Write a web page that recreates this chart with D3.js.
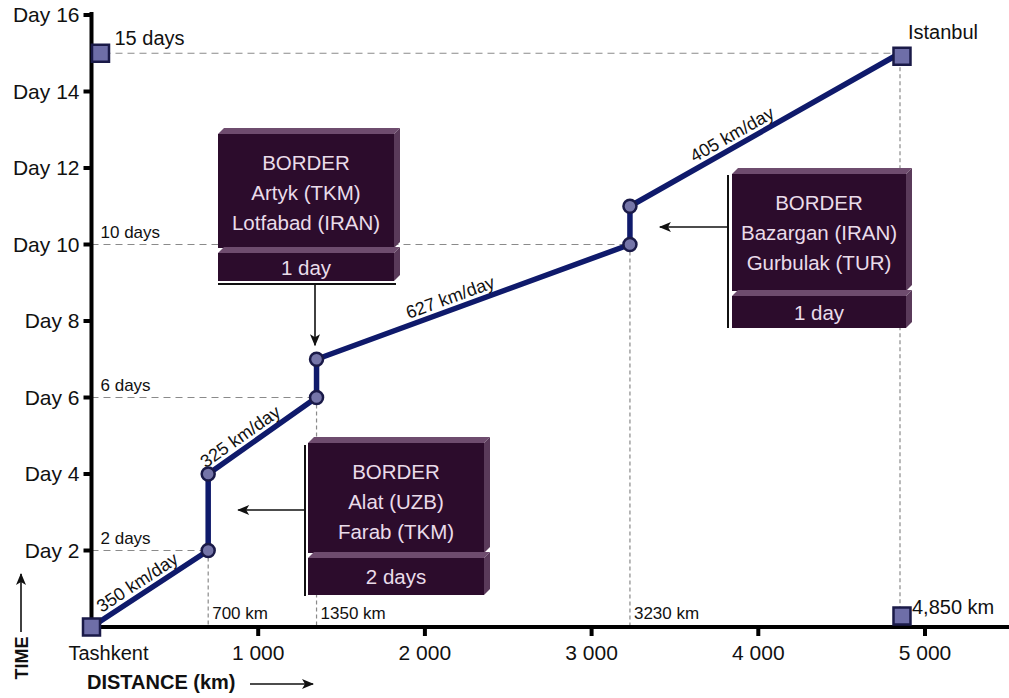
<!DOCTYPE html>
<html><head><meta charset="utf-8">
<script src="https://cdn.jsdelivr.net/npm/d3@7"></script>
<style>
html,body{margin:0;padding:0;background:#fff;}
svg text{font-family:"Liberation Sans",Arial,sans-serif;}
</style></head>
<body>
<svg id="c" width="1009" height="698"></svg>
<script>
// ---- data ----
const routeKm  = [0, 700, 700, 1350, 1350, 3230, 3230, 4850];
const routeDay = [0, 2, 4, 6, 7, 10, 11, 15];
const segPairs = [[0,1],[2,3],[4,5],[6,7]];
const speedLabels = ["350 km/day", "325 km/day", "627 km/day", "405 km/day"];
const milestoneKm  = [700, 1350, 3230, 4850];
const milestoneDay = [2, 6, 10, 15];
const dayLabels = ["2 days", "6 days", "10 days", "15 days"];
const kmLabels  = ["700 km", "1350 km", "3230 km", "4,850 km"];
const yTicks = [2, 4, 6, 8, 10, 12, 14, 16];
const yTickLabels = ["Day 2","Day 4","Day 6","Day 8","Day 10","Day 12","Day 14","Day 16"];
const xTicks = [1000, 2000, 3000, 4000, 5000];
const xTickLabels = ["1 000","2 000","3 000","4 000","5 000"];
const startCity = "Tashkent", endCity = "Istanbul";
const borderTitles = [
  ["BORDER","Artyk (TKM)","Lotfabad (IRAN)"],
  ["BORDER","Alat (UZB)","Farab (TKM)"],
  ["BORDER","Bazargan (IRAN)","Gurbulak (TUR)"]
];
const borderDurations = ["1 day", "2 days", "1 day"];

// ---- layout ----
const svg = d3.select("#c");
const x = d3.scaleLinear().domain([0, 5000]).range([91.5, 925]);
const y = d3.scaleLinear().domain([0, 16]).range([627, 15]);
const FONT = 20.5;
const navy = "#0f1a6b";

const defs = svg.append("defs");
defs.append("marker").attr("id","arr").attr("viewBox","0 0 12 10").attr("refX",11).attr("refY",5)
  .attr("markerWidth",13).attr("markerHeight",10).attr("markerUnits","userSpaceOnUse").attr("orient","auto")
  .append("path").attr("d","M0,0 L12,5 L0,10 L3,5 Z").attr("fill","#111");

// dashed reference lines
const g = svg.append("g");
milestoneKm.forEach((km, i) => {
  const d = milestoneDay[i];
  g.append("line").attr("x1", x(0)).attr("x2", x(km)).attr("y1", y(d)).attr("y2", y(d))
    .attr("stroke","#8a8a8a").attr("stroke-width",1.2).attr("stroke-dasharray","7,5");
  g.append("line").attr("x1", x(km)).attr("x2", x(km)).attr("y1", y(d)).attr("y2", y(0))
    .attr("stroke","#8a8a8a").attr("stroke-width",1.2).attr("stroke-dasharray","4,3");
});

milestoneDay.forEach((d, i) => {
  const big = i === milestoneDay.length - 1;
  g.append("text").attr("x", big ? x(0) + 23 : x(0) + 9).attr("y", y(d) - (big ? 8 : 7))
    .attr("font-size", big ? 20 : 17).attr("fill","#111").text(dayLabels[i]);
});
milestoneKm.forEach((km, i) => {
  const big = i === milestoneKm.length - 1;
  g.append("text").attr("x", x(km) + (big ? 12 : 4)).attr("y", big ? y(0) - 13 : y(0) - 8)
    .attr("font-size", big ? 20 : 17).attr("fill","#111").text(kmLabels[i]);
});

// border boxes
const boxLayout = [
  {l:218, t:128, r:400, s:248, b:281},
  {l:308, t:437, r:490, s:553, b:595},
  {l:732, t:168, r:912, s:291, b:328}
];
const bev = 6;
function box3d(l, t, r, b) {
  g.append("rect").attr("x", l).attr("y", t + bev).attr("width", r - bev - l).attr("height", b - t - bev).attr("fill","#2c0c2c");
  g.append("path").attr("d", `M${l},${t+bev} L${l+bev},${t} L${r},${t} L${r-bev},${t+bev} Z`).attr("fill","#6e4c6e");
  g.append("path").attr("d", `M${r-bev},${t+bev} L${r},${t} L${r},${b-bev} L${r-bev},${b} Z`).attr("fill","#5a3a5a");
}
boxLayout.forEach((bx, i) => {
  box3d(bx.l, bx.t, bx.r, bx.s);
  box3d(bx.l, bx.s - 1, bx.r, bx.b);
  const cx = (bx.l + bx.r - bev) / 2;
  borderTitles[i].forEach((line, j) => {
    g.append("text").attr("x", cx).attr("y", bx.t + 42 + j * 30).attr("text-anchor","middle")
      .attr("font-size", FONT).attr("fill","#eadcea").text(line);
  });
  g.append("text").attr("x", cx).attr("y", (bx.s + bev + bx.b) / 2 + 7).attr("text-anchor","middle")
    .attr("font-size", FONT).attr("fill","#eadcea").text(borderDurations[i]);
});

// connectors / arrows
g.append("line").attr("x1",218).attr("x2",396).attr("y1",284).attr("y2",284).attr("stroke","#111").attr("stroke-width",2);
g.append("line").attr("x1",315).attr("x2",315).attr("y1",284).attr("y2",y(7) - 14).attr("stroke","#111").attr("stroke-width",1.6).attr("marker-end","url(#arr)");
g.append("line").attr("x1",305).attr("x2",305).attr("y1",445).attr("y2",596).attr("stroke","#111").attr("stroke-width",2);
g.append("line").attr("x1",305).attr("x2",x(700) + 30).attr("y1",510).attr("y2",510).attr("stroke","#111").attr("stroke-width",1.6).attr("marker-end","url(#arr)");
g.append("line").attr("x1",728).attr("x2",728).attr("y1",175).attr("y2",328).attr("stroke","#111").attr("stroke-width",2);
g.append("line").attr("x1",728).attr("x2",x(3230) + 30).attr("y1",227).attr("y2",227).attr("stroke","#111").attr("stroke-width",1.6).attr("marker-end","url(#arr)");

// axes
const axG = svg.append("g");
axG.append("line").attr("x1", x(0)).attr("x2", x(0)).attr("y1", y(16) - 3).attr("y2", y(0) + 3).attr("stroke","#000").attr("stroke-width",4);
axG.append("line").attr("x1", x(0) - 2).attr("x2", 1009).attr("y1", y(0)).attr("y2", y(0)).attr("stroke","#000").attr("stroke-width",4);
yTicks.forEach((d, i) => {
  axG.append("line").attr("x1", x(0) - 8).attr("x2", x(0)).attr("y1", y(d)).attr("y2", y(d)).attr("stroke","#000").attr("stroke-width",4);
  axG.append("text").attr("x", x(0) - 12).attr("y", y(d) + 7).attr("text-anchor","end").attr("font-size",21).attr("fill","#111").text(yTickLabels[i]);
});
xTicks.forEach((v, i) => {
  axG.append("line").attr("x1", x(v)).attr("x2", x(v)).attr("y1", y(0)).attr("y2", y(0) + 9).attr("stroke","#000").attr("stroke-width",4);
  axG.append("text").attr("x", x(v)).attr("y", y(0) + 33).attr("text-anchor","middle").attr("font-size",21).attr("fill","#111").text(xTickLabels[i]);
});
axG.append("text").attr("x", x(0) + 17).attr("y", y(0) + 33).attr("text-anchor","middle").attr("font-size",20).attr("fill","#111").text(startCity);

axG.append("text").attr("transform","translate(28,658) rotate(-90)").attr("text-anchor","middle")
  .attr("font-size",18).attr("font-weight","bold").attr("fill","#111").text("TIME");
axG.append("line").attr("x1",21).attr("x2",21).attr("y1",632).attr("y2",574).attr("stroke","#111").attr("stroke-width",1.6).attr("marker-end","url(#arr)");
axG.append("text").attr("x",87).attr("y",689).attr("font-size",20).attr("font-weight","bold").attr("fill","#111").text("DISTANCE (km)");
axG.append("line").attr("x1",250).attr("x2",313).attr("y1",684).attr("y2",684).attr("stroke","#111").attr("stroke-width",1.6).attr("marker-end","url(#arr)");

// route line
const pts = routeKm.map((k, i) => [x(k), y(routeDay[i])]);
svg.append("path").attr("d", d3.line()(pts)).attr("fill","none").attr("stroke", navy).attr("stroke-width",5.5).attr("stroke-linejoin","round");

// speed labels
const tPos = [0.45, 0.36, 0.44, 0.40];
segPairs.forEach((p, i) => {
  const a = pts[p[0]], b = pts[p[1]];
  const ang = Math.atan2(b[1] - a[1], b[0] - a[0]) * 180 / Math.PI;
  const px = a[0] + (b[0] - a[0]) * tPos[i], py = a[1] + (b[1] - a[1]) * tPos[i];
  svg.append("text").attr("transform", `translate(${px},${py}) rotate(${ang})`).attr("y", -6)
    .attr("text-anchor","middle").attr("font-size",18).attr("fill","#111").text(speedLabels[i]);
});

svg.selectAll("circle.pt").data(d3.range(1, routeKm.length - 1)).join("circle")
  .attr("cx", i => x(routeKm[i])).attr("cy", i => y(routeDay[i])).attr("r", 6.5)
  .attr("fill","#7575a8").attr("stroke","#1a1a48").attr("stroke-width",2.5);

const sq = 17;
function square(cx, cy) {
  svg.append("rect").attr("x", cx - sq/2).attr("y", cy - sq/2).attr("width", sq).attr("height", sq)
    .attr("fill","#6e6ea8").attr("stroke","#1a1a48").attr("stroke-width",2.5);
}
square(x(routeKm[0]), y(routeDay[0]));
square(x(routeKm[routeKm.length-1]) + 2, y(routeDay[routeDay.length-1]) + 3);
square(x(0) + 9, y(15));
square(x(4850) + 2, y(0) - 11);
svg.append("text").attr("x", x(4850) + 8).attr("y", y(15) - 14).attr("font-size",20).attr("fill","#111").text(endCity);
</script>
</body></html>
